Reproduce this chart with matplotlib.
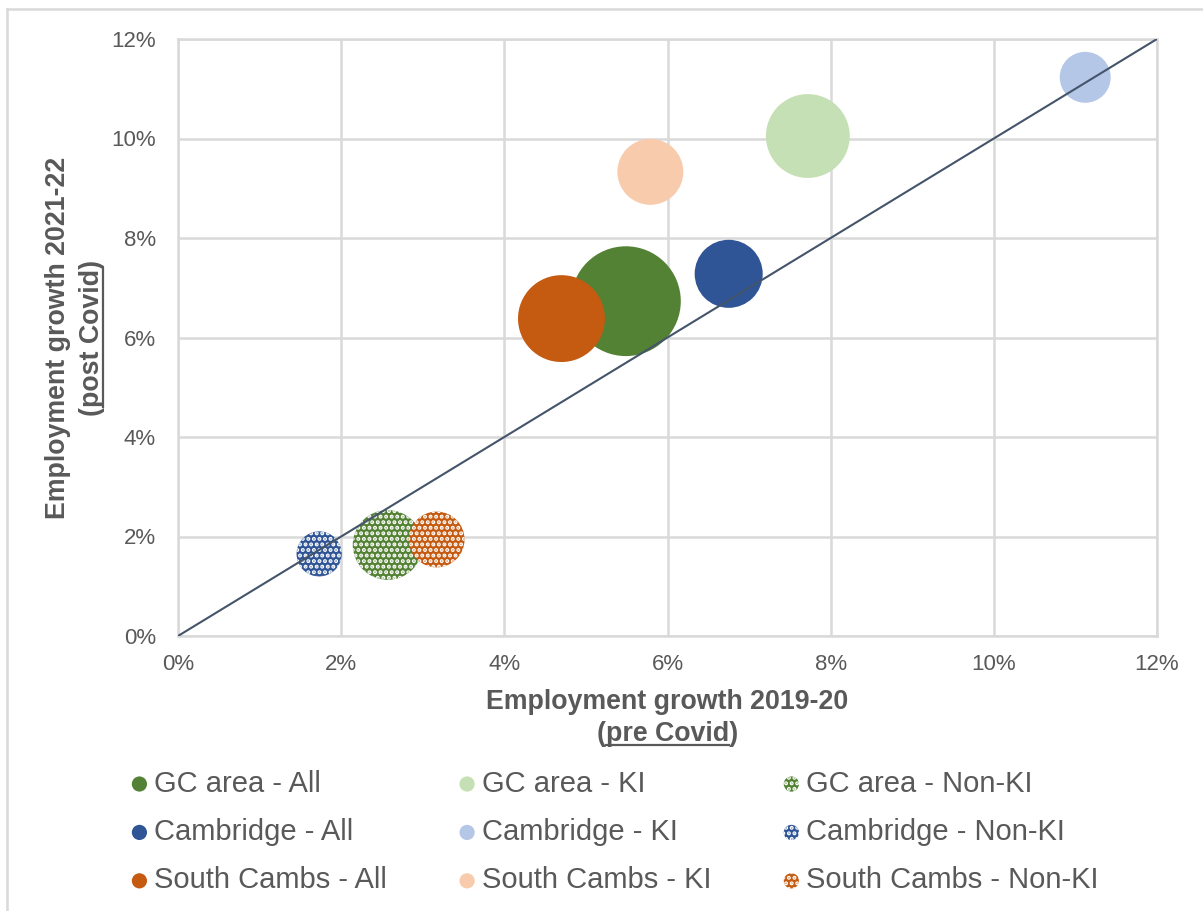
import matplotlib
matplotlib.use("Agg")
import matplotlib.pyplot as plt
from matplotlib.lines import Line2D
from matplotlib.ticker import FuncFormatter

plt.rcParams['font.family'] = ['Liberation Sans', 'DejaVu Sans']
plt.rcParams['hatch.linewidth'] = 2.0

# employment growth (%), pre Covid (2019-20) vs post Covid (2021-22)
labels = ["GC area - All", "Cambridge - All", "South Cambs - All",
          "GC area - KI", "Cambridge - KI", "South Cambs - KI",
          "GC area - Non-KI", "Cambridge - Non-KI", "South Cambs - Non-KI"]
growth_19_20 = [5.49, 6.75, 4.70, 7.72, 11.12, 5.79, 2.57, 1.73, 3.17]
growth_21_22 = [6.73, 7.28, 6.38, 10.05, 11.23, 9.33, 1.83, 1.65, 1.94]
bubble_size = [302, 116, 189, 176, 65, 109, 122, 51, 78]
colours = ["#548235", "#2F5597", "#C55A11",
           "#C5E0B4", "#B4C7E7", "#F8CBAD",
           "#548235", "#2F5597", "#C55A11"]
patterned = [False, False, False, False, False, False, True, True, True]

ticks = [0, 2, 4, 6, 8, 10, 12]

grey_text = "#595959"
grid_col = "#D9D9D9"
SIZE_SCALE = 20.7
HATCH = "..."

W, H = 1203, 911
fig = plt.figure(figsize=(W / 100, H / 100), dpi=100)
ax = fig.add_axes([178 / W, 1 - 636 / H, (1157 - 178) / W, (636 - 39) / H])

# draw order: GC, Cambridge, South Cambs within each group
order = [0, 3, 6, 1, 4, 7, 2, 5, 8]
for i in order:
    kw = dict(s=bubble_size[i] * SIZE_SCALE, c=colours[i], zorder=3)
    if patterned[i]:
        ax.scatter(growth_19_20[i], growth_21_22[i], edgecolors="white",
                   linewidths=0, hatch=HATCH, **kw)
    else:
        ax.scatter(growth_19_20[i], growth_21_22[i], edgecolors="none", **kw)

# y = x reference line
ax.plot([0, 12], [0, 12], color="#44546A", lw=1.5, zorder=4)

ax.set_xlim(0, 12)
ax.set_ylim(0, 12)
ax.set_xticks(ticks)
ax.set_yticks(ticks)
pct = FuncFormatter(lambda v, p: f"{v:.0f}%")
ax.xaxis.set_major_formatter(pct)
ax.yaxis.set_major_formatter(pct)
ax.tick_params(length=0, labelsize=16, labelcolor=grey_text)
ax.tick_params(axis="y", pad=16)
ax.tick_params(axis="x", pad=13)
ax.grid(True, color=grid_col, lw=1.8, zorder=0)
ax.set_axisbelow(True)
for sp in ax.spines.values():
    sp.set_color(grid_col)
    sp.set_linewidth(1.8)

# legend: proxies so every marker has the same size
proxies = []
for i in range(9):
    if patterned[i]:
        p = ax.scatter([], [], s=120, c=colours[i], edgecolors="white",
                       linewidths=0, hatch=HATCH)
    else:
        p = ax.scatter([], [], s=120, c=colours[i], edgecolors="none")
    proxies.append(p)
leg = fig.legend(proxies, labels, ncol=3, loc="upper left",
                 bbox_to_anchor=(119 / W, 1 - 758 / H), frameon=False,
                 fontsize=21, handlelength=0.6, handletextpad=0.2,
                 columnspacing=2.45, labelspacing=0.7, borderaxespad=0)
for t in leg.get_texts():
    t.set_color(grey_text)

# axis titles with underlined second line
fig.canvas.draw()
renderer = fig.canvas.get_renderer()
title_kw = dict(fontsize=19.3, fontweight="bold", color=grey_text)

cx = (178 + 1157) / 2 / W
fig.text(cx, 1 - 702 / H, "Employment growth 2019-20", ha="center", va="center", **title_kw)
t2 = fig.text(cx, 1 - 734 / H, "(pre Covid)", ha="center", va="center", **title_kw)
paren = fig.text(0, 0, "(", **title_kw)
pw = paren.get_window_extent(renderer).width
paren.remove()
bb = t2.get_window_extent(renderer)
uy = bb.y0 + 2
fig.add_artist(Line2D([(bb.x0 + pw) / W, (bb.x1 - pw) / W], [uy / H, uy / H],
                      transform=fig.transFigure, color=grey_text, lw=1.6))

cy = 1 - (39 + 636) / 2 / H
fig.text(58 / W, cy, "Employment growth 2021-22", rotation=90, ha="center", va="center", **title_kw)
t4 = fig.text(92 / W, cy, "(post Covid)", rotation=90, ha="center", va="center", **title_kw)
bb = t4.get_window_extent(renderer)
ux = bb.x1 - 2
fig.add_artist(Line2D([ux / W, ux / W], [(bb.y0 + pw) / H, (bb.y1 - pw) / H],
                      transform=fig.transFigure, color=grey_text, lw=1.6))

# chart area border
fig.add_artist(Line2D([7 / W, 7 / W], [0, 1 - 9 / H], transform=fig.transFigure,
                      color=grid_col, lw=1.8))
fig.add_artist(Line2D([7 / W, 1], [1 - 9 / H, 1 - 9 / H], transform=fig.transFigure,
                      color=grid_col, lw=1.8))

fig.savefig("out.png", dpi=100, facecolor="white")
